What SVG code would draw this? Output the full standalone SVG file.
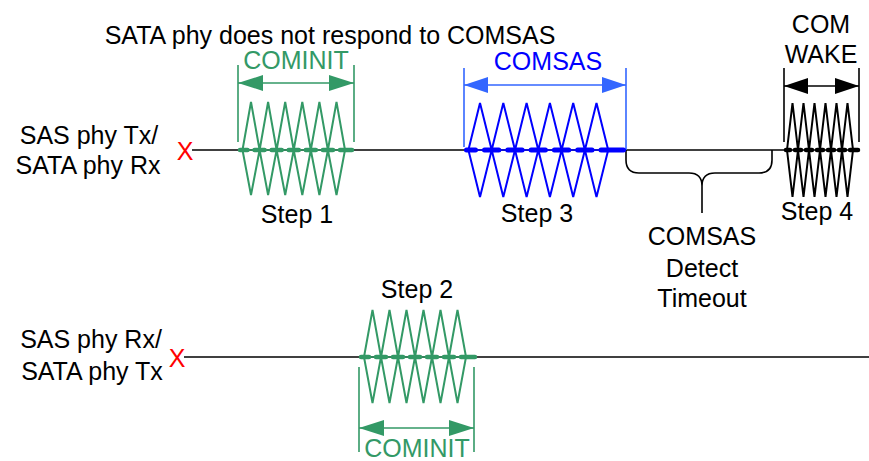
<svg xmlns="http://www.w3.org/2000/svg" width="869" height="461" viewBox="0 0 869 461">
  <style>
    text { font-family: "Liberation Sans", Arial, sans-serif; font-size: 25px; fill: #000; }
    .mid { text-anchor: middle; }
    .green { fill: #339966; }
    .blue { fill: #0000ff; }
    .red { fill: #ff0000; }
    .wire { stroke: #000; stroke-width: 1.6; fill: none; }
    .zg { stroke: #339966; stroke-width: 2; fill: none; stroke-linejoin: miter; }
    .zb { stroke: #0000ff; stroke-width: 2; fill: none; }
    .zk { stroke: #000; stroke-width: 2; fill: none; }
    .barg { stroke: #339966; stroke-width: 4.5; stroke-linecap: round; fill: none; }
    .barb { stroke: #0000ff; stroke-width: 5; stroke-linecap: round; fill: none; }
    .bark { stroke: #000; stroke-width: 4.5; stroke-linecap: round; fill: none; }
    .thing { stroke: #339966; stroke-width: 1.6; fill: none; }
    .thinb { stroke: #0000ff; stroke-width: 1.6; fill: none; }
    .dimg { stroke: #339966; stroke-width: 1.6; fill: none; }
    .dimb { stroke: #3366ff; stroke-width: 1.6; fill: none; }
    .dimk { stroke: #000; stroke-width: 1.6; fill: none; }
  </style>
  <defs>
    <marker id="arrG" viewBox="0 0 25 16" refX="25" refY="8" markerWidth="25" markerHeight="16" markerUnits="userSpaceOnUse" orient="auto-start-reverse">
      <path d="M0,0 L25,8 L0,16 Z" fill="#339966"/>
    </marker>
    <marker id="arrB" viewBox="0 0 24 16" refX="24" refY="8" markerWidth="24" markerHeight="16" markerUnits="userSpaceOnUse" orient="auto-start-reverse">
      <path d="M0,0 L24,8 L0,16 Z" fill="#3366ff"/>
    </marker>
    <marker id="arrK" viewBox="0 0 24 16" refX="24" refY="8" markerWidth="24" markerHeight="16" markerUnits="userSpaceOnUse" orient="auto-start-reverse">
      <path d="M0,0 L24,8 L0,16 Z" fill="#000"/>
    </marker>
  </defs>

  <!-- heading -->
  <text id="title" class="mid" x="330" y="44">SATA phy does not respond to COMSAS</text>

  <!-- signal lines -->
  <g id="connectors">
    <line class="wire" x1="192" y1="150" x2="784" y2="150"/>
    <line class="wire" x1="184" y1="357" x2="869" y2="357"/>
    <!-- timeout brace -->
    <path class="wire" d="M626,150 L626,160 Q626,173 639,173 L689,173 Q702,173 702,186 L702,213 M702,186 Q702,173 715,173 L759,173 Q772,173 772,160 L772,150"/>
  </g>

  <!-- port labels -->
  <g id="tx-port">
    <text class="mid" x="89" y="144">SAS phy Tx/</text>
    <text class="mid" x="88" y="174">SATA phy Rx</text>
    <text class="mid red" x="185" y="160">X</text>
  </g>
  <g id="rx-port">
    <text class="mid" x="91" y="348">SAS phy Rx/</text>
    <text class="mid" x="92" y="380">SATA phy Tx</text>
    <text class="mid red" x="177" y="367">X</text>
  </g>

  <!-- Step 1: COMINIT burst -->
  <g id="step1">
    <line class="dimg" x1="238" y1="65" x2="238" y2="142"/>
    <line class="dimg" x1="354" y1="65" x2="354" y2="142"/>
    <line class="dimg" x1="238" y1="83" x2="354" y2="83" marker-start="url(#arrG)" marker-end="url(#arrG)"/>
    <text class="mid green" x="296" y="69">COMINIT</text>
    <line class="thing" x1="238" y1="150" x2="354" y2="150"/>
    <path class="zg" d="M242.5,150 L251,102 L259.6,150 L268.1,102 L276.6,150 L285.2,102 L293.7,150 L302.3,102 L310.8,150 L319.4,102 L327.9,150 L336.5,102 L345,150 M242.5,150 L251,195 L259.6,150 L268.1,195 L276.6,150 L285.2,195 L293.7,150 L302.3,195 L310.8,150 L319.4,195 L327.9,150 L336.5,195 L345,150"/>
    <path class="barg" d="M240,150 L247.5,150 M254.5,150 L264.6,150 M271.6,150 L281.7,150 M288.7,150 L298.8,150 M305.8,150 L315.9,150 M322.9,150 L333,150 M340,150 L352,150"/>
    <text class="mid" x="297" y="223">Step 1</text>
  </g>

  <!-- Step 2: COMINIT reply -->
  <g id="step2">
    <text class="mid" x="417" y="298">Step 2</text>
    <line class="thing" x1="359" y1="357" x2="477" y2="357"/>
    <path class="zg" d="M364,357 L372.5,310 L381,357 L389.5,310 L398,357 L406.5,310 L415,357 L423.5,310 L432,357 L440.5,310 L449,357 L457.5,310 L466,357 M364,357 L372.5,403 L381,357 L389.5,403 L398,357 L406.5,403 L415,357 L423.5,403 L432,357 L440.5,403 L449,357 L457.5,403 L466,357"/>
    <path class="barg" d="M361,357 L369,357 M376,357 L386,357 M393,357 L403,357 M410,357 L420,357 M427,357 L437,357 M444,357 L454,357 M461,357 L475,357"/>
    <line class="dimg" x1="359" y1="367" x2="359" y2="452"/>
    <line class="dimg" x1="474" y1="367" x2="474" y2="452"/>
    <line class="dimg" x1="359" y1="428" x2="474" y2="428" marker-start="url(#arrG)" marker-end="url(#arrG)"/>
    <text class="mid green" x="417" y="457">COMINIT</text>
  </g>

  <!-- Step 3: COMSAS burst -->
  <g id="step3">
    <line class="dimb" x1="464" y1="68" x2="464" y2="147"/>
    <line class="dimb" x1="626" y1="68" x2="626" y2="150"/>
    <line class="dimb" x1="464" y1="85" x2="626" y2="85" marker-start="url(#arrB)" marker-end="url(#arrB)"/>
    <text class="mid blue" x="548" y="70">COMSAS</text>
    <line class="thinb" x1="464" y1="150" x2="626" y2="150"/>
    <path class="zb" d="M468.4,150 L480,103 L491.7,150 L503.3,103 L515,150 L526.6,103 L538.3,150 L549.9,103 L561.6,150 L573.2,103 L584.9,150 L596.5,103 L608.2,150 M468.4,150 L480,197 L491.7,150 L503.3,197 L515,150 L526.6,197 L538.3,150 L549.9,197 L561.6,150 L573.2,197 L584.9,150 L596.5,197 L608.2,150"/>
    <path class="barb" d="M466.5,150 L475.5,150 M484.5,150 L498.8,150 M507.8,150 L522.1,150 M531.1,150 L545.4,150 M554.4,150 L568.7,150 M577.7,150 L592,150 M601,150 L623.5,150"/>
    <text class="mid" x="537" y="222">Step 3</text>
  </g>

  <!-- detect timeout annotation -->
  <g id="timeout">
    <text class="mid" x="702" y="245">COMSAS</text>
    <text class="mid" x="702" y="277">Detect</text>
    <text class="mid" x="702" y="307">Timeout</text>
  </g>

  <!-- Step 4: COMWAKE burst -->
  <g id="step4">
    <text class="mid" x="821" y="33">COM</text>
    <text class="mid" x="821" y="63">WAKE</text>
    <line class="dimk" x1="784" y1="68" x2="784" y2="142"/>
    <line class="dimk" x1="859" y1="68" x2="859" y2="142"/>
    <line class="dimk" x1="784" y1="86" x2="859" y2="86" marker-start="url(#arrK)" marker-end="url(#arrK)"/>
    <line class="wire" x1="784" y1="150" x2="860" y2="150"/>
    <path class="zk" d="M787,150 L792.5,103 L798,150 L803.5,103 L809,150 L814.5,103 L820,150 L825.5,103 L831,150 L836.5,103 L842,150 L847.5,103 L853,150 M787,150 L792.5,197 L798,150 L803.5,197 L809,150 L814.5,197 L820,150 L825.5,197 L831,150 L836.5,197 L842,150 L847.5,197 L853,150"/>
    <path class="bark" d="M786,150 L790,150 M795,150 L801,150 M806,150 L812,150 M817,150 L823,150 M828,150 L834,150 M839,150 L845,150 M850,150 L858,150"/>
    <text class="mid" x="817" y="220">Step 4</text>
  </g>
</svg>
